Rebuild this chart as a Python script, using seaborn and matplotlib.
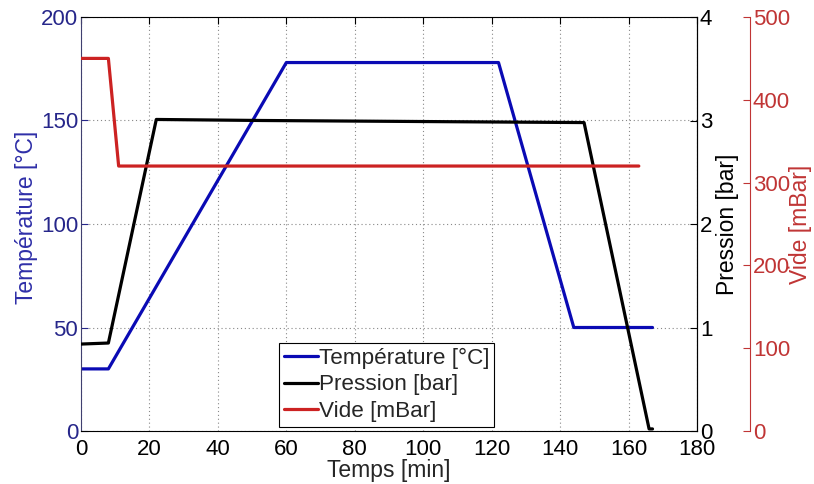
import matplotlib
matplotlib.use("Agg")
import matplotlib.pyplot as plt
import seaborn as sns
import pandas as pd

# ---- data ----
temp_t = [0, 8, 60, 122, 144, 167]
temp_v = [30, 30, 178, 178, 50, 50]
pres_t = [0, 8, 22, 53, 147, 166, 167]
pres_v = [0.84, 0.85, 3.01, 3.0, 2.98, 0.02, 0.02]
vide_t = [0, 8, 11, 163]
vide_v = [450, 450, 320, 320]

x_ticks = [0, 20, 40, 60, 80, 100, 120, 140, 160, 180]
temp_ticks = [0, 50, 100, 150, 200]
pres_ticks = [0, 1, 2, 3, 4]
vide_ticks = [0, 100, 200, 300, 400, 500]

labels = ["Température [°C]", "Pression [bar]", "Vide [mBar]"]

sns.set_style("white")
plt.rcParams["font.family"] = ["Liberation Sans", "DejaVu Sans"]

TICK = 16
LAB = 16.5
BLUE = "#0a0ab4"
NAVY = "#26268a"
RED = "#cc2222"
RED_AX = "#c03535"

fig = plt.figure(figsize=(8.14, 4.84), dpi=100)
ax = fig.add_axes([81 / 814, 1 - 431 / 484, 616 / 814, 414 / 484])
ax2 = ax.twinx()
ax3 = ax.twinx()

df_t = pd.DataFrame({"t": temp_t, "v": temp_v})
df_p = pd.DataFrame({"t": pres_t, "v": pres_v})
df_v = pd.DataFrame({"t": vide_t, "v": vide_v})

sns.lineplot(data=df_t, x="t", y="v", ax=ax, color=BLUE, lw=2.3, label=labels[0], legend=False, sort=False)
sns.lineplot(data=df_p, x="t", y="v", ax=ax2, color="black", lw=2.3, label=labels[1], legend=False, sort=False)
sns.lineplot(data=df_v, x="t", y="v", ax=ax3, color=RED, lw=2.3, label=labels[2], legend=False, sort=False)

# main axis
ax.set_xlim(0, 180)
ax.set_ylim(0, 200)
ax.set_xticks(x_ticks)
ax.set_yticks(temp_ticks)
ax.grid(True, linestyle=(0, (1, 2.5)), color="#888888", lw=0.8)
ax.set_xlabel("Temps [min]", fontsize=LAB, labelpad=-1)
ax.set_ylabel("Température [°C]", fontsize=LAB, color="#2f2fa8", labelpad=2)
ax.yaxis.label.set_y(0.517)
ax.tick_params(axis="x", direction="in", length=5, labelsize=TICK, pad=6, top=True, colors="black")
ax.tick_params(axis="y", direction="in", length=5, labelsize=TICK, pad=2, colors=NAVY)
for s in ["top", "bottom", "right"]:
    ax.spines[s].set_color("black")
    ax.spines[s].set_linewidth(0.8)
ax.spines["left"].set_color("#404070")
ax.spines["left"].set_linewidth(0.8)

# pressure axis
ax2.set_ylim(0, 4)
ax2.set_yticks(pres_ticks)
ax2.set_ylabel("Pression [bar]", fontsize=LAB, color="black", rotation=90, labelpad=3)
ax2.tick_params(axis="y", direction="in", length=5, labelsize=TICK, pad=2, colors="black")
ax2.spines["right"].set_color("black")
ax2.spines["right"].set_linewidth(0.8)
for s in ["top", "bottom", "left"]:
    ax2.spines[s].set_visible(False)
ax2.grid(False)

# vide axis
ax3.spines["right"].set_position(("axes", (750 - 81) / 616))
ax3.set_ylim(0, 500)
ax3.set_yticks(vide_ticks)
ax3.set_ylabel("Vide [mBar]", fontsize=LAB, color=RED_AX, rotation=90, labelpad=-1)
ax3.tick_params(axis="y", direction="in", length=5, labelsize=TICK, pad=2, colors=RED_AX)
ax3.spines["right"].set_color(RED_AX)
ax3.spines["right"].set_linewidth(0.8)
for s in ["top", "bottom", "left"]:
    ax3.spines[s].set_visible(False)
ax3.grid(False)

handles = ax.get_lines()[-1:] + ax2.get_lines()[-1:] + ax3.get_lines()[-1:]
leg = ax3.legend(handles, labels, loc="lower left",
                 bbox_to_anchor=((279 - 81) / 616, (431 - 427) / 414),
                 borderaxespad=0, fontsize=16.2, handlelength=1.5, handletextpad=0.05,
                 labelspacing=0.25, borderpad=0.22, frameon=True, fancybox=False,
                 edgecolor="black", framealpha=1)
leg.get_frame().set_linewidth(0.8)

fig.savefig("out.png", dpi=100)
